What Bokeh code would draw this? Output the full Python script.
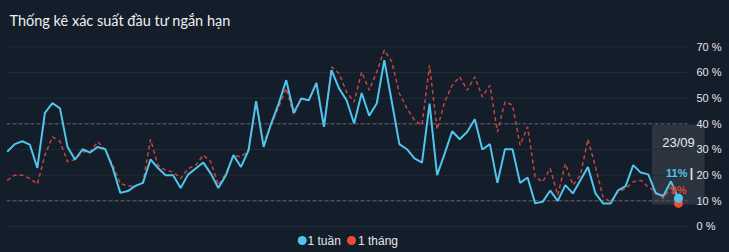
from bokeh.plotting import figure
from bokeh.models import Range1d, BoxAnnotation, Label, FixedTicker, PrintfTickFormatter
from bokeh.embed import file_html
from bokeh.resources import INLINE

# ---------------- data ----------------
title_text = "Thống kê xác suất đầu tư ngắn hạn"
series_names = ["1 tuần", "1 tháng"]
last_date = "23/09"

week = [29.1, 32.1, 33.2, 31.9, 22.8, 44.3, 48.1, 46.0, 31.0, 26.1,
        30.1, 28.8, 31.0, 30.1, 22.8, 13.1, 13.8, 15.8, 17.0, 26.1,
        22.8, 20.0, 20.0, 15.0, 20.3, 22.6, 24.9, 20.6, 15.0, 20.0,
        27.8, 23.2, 29.7, 48.8, 31.0, 40.1, 47.9, 57.0, 44.3, 49.9,
        49.2, 55.9, 38.8, 60.9, 53.8, 49.2, 40.1, 52.0, 43.2, 47.9,
        64.8, 48.5, 32.1, 30.1, 26.5, 24.9, 47.9, 20.0, 28.4, 37.1,
        34.0, 36.9, 41.8, 30.0, 32.1, 17.0, 30.1, 30.1, 17.0, 19.1,
        9.0, 9.6, 14.0, 10.0, 16.1, 12.9, 18.0, 23.2, 12.9, 9.0,
        9.0, 14.1, 15.7, 23.9, 21.0, 20.3, 12.9, 11.9, 17.6, 11.0]

month = [18.0, 20.0, 20.0, 18.7, 16.5, 27.8, 34.9, 33.2, 25.2, 26.1,
         29.1, 29.1, 33.0, 30.0, 23.9, 16.7, 15.8, 15.8, 17.0, 33.9,
         23.9, 21.9, 21.3, 18.7, 22.6, 23.9, 27.8, 25.2, 16.1, 20.6,
         27.8, 27.1, 29.7, 48.5, 32.3, 39.7, 46.6, 53.8, 43.4, 49.9,
         49.2, 55.9, 38.8, 62.2, 59.6, 52.4, 48.5, 60.2, 53.1, 60.2,
         68.7, 64.1, 51.8, 46.0, 41.4, 39.5, 62.8, 37.8, 48.5, 55.0,
         58.3, 53.1, 58.3, 50.5, 55.0, 36.9, 48.5, 47.3, 31.7, 38.8,
         19.3, 17.4, 22.6, 12.2, 24.5, 16.1, 20.0, 34.0, 23.2, 11.5,
         9.6, 13.5, 14.8, 17.4, 18.0, 15.4, 13.5, 10.9, 15.4, 9.0]

y_ticks = [0, 10, 20, 30, 40, 50, 60, 70]
solid_grid = [0, 20, 30, 50, 60, 70]
dashed_grid = [10, 40]

# ---------------- style ----------------
BG = "#141d2a"
BLUE = "#4fc5ec"
RED = "#c0463e"
RED_DOT = "#ee4b36"
FONT = "Liberation Sans"

W, H = 729, 252
FL, FR = 6, 706               # frame left / right in pixels
GRID_END = 687                # pixel where the grid lines stop
PX_PER_UNIT = 7.5424
X0 = -0.09
X1 = X0 + (FR - FL) / PX_PER_UNIT
Y0, Y1 = -10.13, 88.04


def dx(px):
    return X0 + (px - FL) / PX_PER_UNIT


def dy(py):
    return Y0 + (H - py) * (Y1 - Y0) / H


x = list(range(len(week)))
n = len(week) - 1

p = figure(width=W, height=H, output_backend="svg", toolbar_location=None,
           x_range=Range1d(X0, X1), y_range=Range1d(Y0, Y1),
           y_axis_location="right",
           min_border_left=FL, min_border_right=W - FR,
           min_border_top=0, min_border_bottom=0)
p.title.visible = False
p.background_fill_color = BG
p.border_fill_color = BG
p.outline_line_color = None
p.xaxis.visible = False
p.xgrid.visible = False
p.ygrid.visible = False

yax = p.yaxis[0]
yax.ticker = FixedTicker(ticks=y_ticks)
yax.formatter = PrintfTickFormatter(format="%d %%")
yax.axis_line_color = None
yax.major_tick_line_color = None
yax.minor_tick_line_color = None
yax.major_tick_out = 0
yax.major_tick_in = 0
yax.major_label_standoff = 696 - FR
yax.major_label_text_color = "#e4e6e9"
yax.major_label_text_font = FONT
yax.major_label_text_font_size = "11px"

# horizontal grid lines (stop short of the axis labels)
p.segment(x0=[X0] * len(solid_grid), y0=solid_grid,
          x1=[dx(GRID_END)] * len(solid_grid), y1=solid_grid,
          line_color="#222c3a", line_width=1)
p.segment(x0=[X0] * len(dashed_grid), y0=dashed_grid,
          x1=[dx(GRID_END)] * len(dashed_grid), y1=dashed_grid,
          line_color="#4a4f57", line_width=1.5, line_dash="4 2")

# tooltip box
p.add_layout(BoxAnnotation(left=dx(651.5), right=dx(704), top=dy(124), bottom=dy(204),
                           fill_color="white", fill_alpha=0.1, line_color=None,
                           border_radius=2, level="underlay"))

# series
p.line(x, month, line_color=RED, line_width=1.5, line_dash="4 3")
p.line(x, week, line_color=BLUE, line_width=2)

p.scatter([x[n]], [month[n]], size=9, fill_color=RED_DOT, line_color=None)
p.scatter([x[n]], [week[n]], size=9, fill_color=BLUE, line_color=None)

# tooltip texts
p.add_layout(Label(x=x[n], y=dy(142), text=last_date, text_align="center",
                   text_baseline="middle", text_color="#e8e8e8",
                   text_font=FONT, text_font_size="13px"))
p.add_layout(Label(x=dx(687), y=dy(172.5), text=f"{week[n]:.0f}%", text_align="right",
                   text_baseline="middle", text_color=BLUE, text_font=FONT,
                   text_font_size="11px", text_font_style="bold"))
p.add_layout(Label(x=dx(691), y=dy(172.5), text="|", text_align="center",
                   text_baseline="middle", text_color="#e8e8e8", text_font=FONT,
                   text_font_size="12px", text_font_style="bold"))
p.add_layout(Label(x=dx(686), y=dy(189), text=f"{month[n]:.0f}%", text_align="right",
                   text_baseline="middle", text_color="#d4463a", text_font=FONT,
                   text_font_size="11px", text_font_style="bold"))

# title
p.add_layout(Label(x=3, y=H - 20, x_units="screen", y_units="screen", text=title_text,
                   text_align="left", text_baseline="middle", text_color="#f0f0f0",
                   text_font="Lato", text_font_size="14.5px"))

# legend
legend_y = dy(240)
p.scatter([dx(301.7)], [legend_y], size=9, fill_color=BLUE, line_color=None)
p.scatter([dx(351)], [legend_y], size=9, fill_color=RED_DOT, line_color=None)
p.add_layout(Label(x=dx(307), y=legend_y, text=series_names[0], text_align="left",
                   text_baseline="middle", text_color="#e4e6e9", text_font=FONT,
                   text_font_size="12px"))
p.add_layout(Label(x=dx(357.5), y=legend_y, text=series_names[1], text_align="left",
                   text_baseline="middle", text_color="#e4e6e9", text_font=FONT,
                   text_font_size="12px"))

html = file_html(p, INLINE)
html = html.replace("<head>", "<head><style>html,body{background:" + BG + ";margin:0;}</style>", 1)
open("out.html", "w").write(html)
